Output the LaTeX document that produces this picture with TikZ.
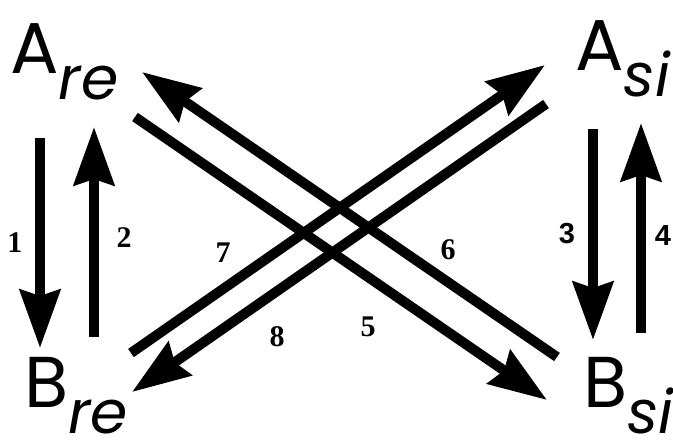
\documentclass[tikz,border=0pt]{standalone}
\usepackage{fontspec}
\setmainfont{Liberation Serif}
\newfontfamily\letterfont{Poppins}
\newfontfamily\digitsans{Liberation Sans}
\usetikzlibrary{arrows.meta}

% lowered, slightly smaller italic index after a state letter
\newcommand{\lowsub}[1]{\raisebox{-26pt}{\fontsize{60}{60}\selectfont\itshape #1}}

\begin{document}
\begin{tikzpicture}[x=1pt, y=-1pt,
  statelbl/.style={inner sep=0pt, anchor=base west, font=\letterfont\fontsize{72}{72}\selectfont},
  numlbl/.style={inner sep=0pt, font=\bfseries\fontsize{30}{30}\selectfont},
  numsans/.style={inner sep=0pt, font=\digitsans\bfseries\fontsize{29}{29}\selectfont},
  arr/.style={line width=10pt, -{Stealth[length=58pt, width=40pt, inset=6pt]}}]
  \useasboundingbox (0,0) rectangle (673,440);
  % states
  \node[statelbl] (are) at (10,73) {A\lowsub{re}};
  \node[statelbl] (asi) at (575,70) {A\lowsub{si}};
  \node[statelbl] (bre) at (24,407) {B\lowsub{re}};
  \node[statelbl] (bsi) at (583,407) {B\lowsub{si}};
  % end points of the transitions
  \coordinate (p1s) at (40,138);  \coordinate (p1e) at (40,348);
  \coordinate (p2s) at (94,337);  \coordinate (p2e) at (94,127);
  \coordinate (p3s) at (593,129); \coordinate (p3e) at (593,340);
  \coordinate (p4s) at (641,333); \coordinate (p4e) at (641,123);
  \coordinate (p5s) at (135,117); \coordinate (p5e) at (547,400);
  \coordinate (p6s) at (557,357); \coordinate (p6e) at (142,72);
  \coordinate (p7s) at (131,353); \coordinate (p7e) at (545,65);
  \coordinate (p8s) at (546,104); \coordinate (p8e) at (132,392);
  % vertical transitions
  \draw[arr] (p1s) -- (p1e);
  \draw[arr] (p2s) -- (p2e);
  \draw[arr] (p3s) -- (p3e);
  \draw[arr] (p4s) -- (p4e);
  % crossing transitions
  \draw[arr] (p5s) -- (p5e);
  \draw[arr] (p6s) -- (p6e);
  \draw[arr] (p7s) -- (p7e);
  \draw[arr] (p8s) -- (p8e);
  % numbers
  \node[numlbl] (n1) at (15,243) {1};
  \node[numlbl] (n2) at (124,238) {2};
  \node[numsans] (n3) at (567,234) {3};
  \node[numsans] (n4) at (663,236) {4};
  \node[numlbl] (n5) at (368,327) {5};
  \node[numlbl] (n6) at (448,250) {6};
  \node[numlbl] (n7) at (223,253) {7};
  \node[numlbl] (n8) at (277,337) {8};
\end{tikzpicture}
\end{document}
